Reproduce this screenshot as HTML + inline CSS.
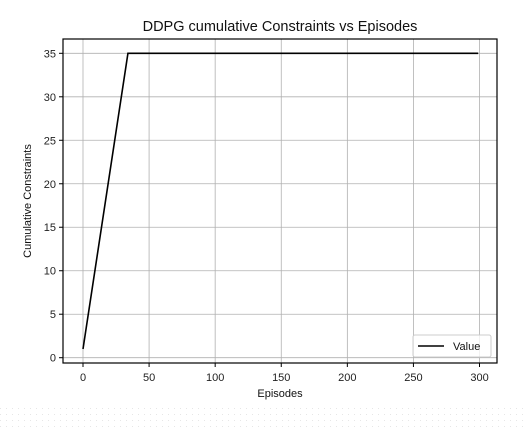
<!DOCTYPE html>
<html><head><meta charset="utf-8"><style>
html,body{margin:0;padding:0;background:#fff;}
svg{display:block;font-family:"Liberation Sans","DejaVu Sans",sans-serif;}
</style></head><body>
<svg id="chart" width="528" height="427">
<defs><pattern id="dots" width="6" height="6" patternUnits="userSpaceOnUse"><rect width="1" height="1" fill="#e6e6e6"/></pattern></defs>
<rect x="0" y="405" width="528" height="22" fill="url(#dots)"/>
<text x="280" y="31" font-size="14.5" text-anchor="middle" fill="#111">DDPG cumulative Constraints vs Episodes</text>
<g id="grid"></g>
<g id="ticks"></g>
<rect x="63" y="39" width="434" height="324" fill="none" stroke="#000" stroke-width="1.2"/>
<path id="line" fill="none" stroke="#000" stroke-width="1.6"/>
<text x="280" y="397" font-size="11" text-anchor="middle" fill="#111">Episodes</text>
<text x="0" y="0" font-size="11" text-anchor="middle" fill="#111" transform="translate(31,201) rotate(-90)">Cumulative Constraints</text>
<g>
<rect x="413" y="335" width="78" height="22" rx="2" fill="#fff" fill-opacity="0.8" stroke="#ccc"/>
<line x1="418" y1="346" x2="444" y2="346" stroke="#000" stroke-width="1.6"/>
<text x="453" y="350" font-size="11" fill="#111">Value</text>
</g>
</svg>
<script>
const episodes=[0,34,299];
const values=[1,35,35];
const xTicks=[0,50,100,150,200,250,300];
const yTicks=[0,5,10,15,20,25,30,35];
const X=v=>83+v*1.3217;
const Y=v=>357.7-v*8.697;
const NS="http://www.w3.org/2000/svg";
const grid=document.getElementById('grid'),ticks=document.getElementById('ticks');
function mk(tag,attrs,parent){const e=document.createElementNS(NS,tag);for(const k in attrs)e.setAttribute(k,attrs[k]);parent.appendChild(e);return e;}
xTicks.forEach(t=>{
 const g=mk('line',{x1:X(t),x2:X(t),y1:39,y2:363,stroke:'#b0b0b0','stroke-width':0.8},grid);
 
 
 const tk=mk('line',{x1:X(t),x2:X(t),y1:363,y2:367,stroke:'#000'},ticks);
 
 
 const tx=mk('text',{x:X(t),y:381,'font-size':11,'text-anchor':'middle',fill:'#222'},ticks);
 tx.textContent=t;
 
 
});
yTicks.forEach(t=>{
 const g=mk('line',{x1:63,x2:497,y1:Y(t),y2:Y(t),stroke:'#b0b0b0','stroke-width':0.8},grid);
 
 
 const tk=mk('line',{x1:59,x2:63,y1:Y(t),y2:Y(t),stroke:'#000'},ticks);
 
 
 const tx=mk('text',{x:56,y:Y(t)+4,'font-size':11,'text-anchor':'end',fill:'#222'},ticks);
 tx.textContent=t;
 
 
});
document.getElementById('line').setAttribute('d',episodes.map((e,i)=>(i?'L':'M')+X(e)+','+Y(values[i])).join(' '));
</script>
</body></html>
